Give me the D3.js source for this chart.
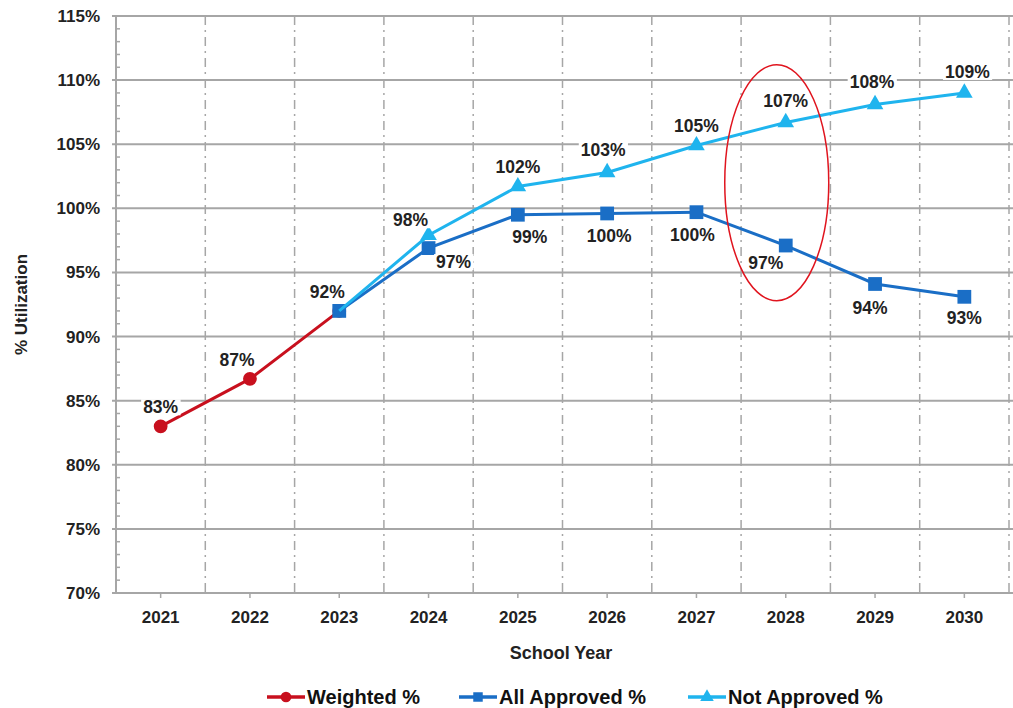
<!DOCTYPE html>
<html>
<head>
<meta charset="utf-8">
<script src="https://cdn.jsdelivr.net/npm/d3@7"></script>
<style>
  body { margin: 0; background: #fff; }
  svg { display: block; font-family: "Liberation Sans", Arial, sans-serif; font-weight: bold; }
</style>
</head>
<body>
<div id="chart"></div>
<script>
const years = ["2021", "2022", "2023", "2024", "2025", "2026", "2027", "2028", "2029", "2030"];
const weighted = [83.0, 86.7, 92.0, null, null, null, null, null, null, null];
const allApproved = [null, null, 92.0, 96.9, 99.5, 99.6, 99.7, 97.1, 94.1, 93.1];
const notApproved = [null, null, 92.0, 97.9, 101.7, 102.8, 104.9, 106.7, 108.1, 109.0];
const weightedLabels = ["83%", "87%", "92%"];
const allApprovedLabels = ["", "", "", "97%", "99%", "100%", "100%", "97%", "94%", "93%"];
const notApprovedLabels = ["", "", "", "98%", "102%", "103%", "105%", "107%", "108%", "109%"];
const yTicks = [70, 75, 80, 85, 90, 95, 100, 105, 110, 115];

const W = 1013, H = 708;
const margin = { top: 16, right: 4, bottom: 115, left: 116 };

const svg = d3.select("#chart").append("svg")
    .attr("width", W)
    .attr("height", H);

const x = d3.scaleBand()
    .domain(years)
    .range([margin.left, W - margin.right]);

const y = d3.scaleLinear()
    .domain([70, 115])
    .range([H - margin.bottom, margin.top]);

const gridColor = "#a6a6a6";
const font = "Liberation Sans, Arial, sans-serif";

// vertical dash-dot gridlines at band boundaries
years.forEach((yr, i) => {
    const xx = x(yr) + x.step();
    svg.append("line")
        .attr("x1", xx).attr("x2", xx)
        .attr("y1", y(115)).attr("y2", y(70))
        .attr("stroke", gridColor)
        .attr("stroke-width", 1.5)
        .attr("stroke-dasharray", "9,5,2,5");
});

// horizontal gridlines
yTicks.forEach(t => {
    svg.append("line")
        .attr("x1", margin.left - 4).attr("x2", W)
        .attr("y1", y(t)).attr("y2", y(t))
        .attr("stroke", gridColor)
        .attr("stroke-width", 2);
});

// y axis
const yAxis = svg.append("g")
    .attr("transform", `translate(${margin.left},0)`)
    .call(d3.axisLeft(y).tickValues(yTicks).tickSize(0).tickPadding(16).tickFormat(d => d + "%"));
yAxis.select(".domain").remove();
yAxis.selectAll("text")
    .attr("font-size", 17)
    .attr("font-family", font)
    .attr("font-weight", "bold")
    .attr("fill", "#222");
svg.append("line")
    .attr("x1", margin.left).attr("x2", margin.left)
    .attr("y1", y(115)).attr("y2", y(70))
    .attr("stroke", gridColor).attr("stroke-width", 2);
// minor ticks
d3.range(70, 115, 1).filter(v => v % 5 !== 0).forEach(v => {
    svg.append("line")
        .attr("x1", margin.left).attr("x2", margin.left + 4)
        .attr("y1", y(v)).attr("y2", y(v))
        .attr("stroke", gridColor).attr("stroke-width", 1.5);
});

// x axis
const xAxis = svg.append("g")
    .attr("transform", `translate(0,${y(70)})`)
    .call(d3.axisBottom(x).tickSize(5).tickPadding(13));
xAxis.select(".domain").remove();
xAxis.selectAll("line").attr("stroke", gridColor).attr("stroke-width", 1.5);
xAxis.selectAll("text")
    .attr("font-size", 17)
    .attr("font-family", font)
    .attr("font-weight", "bold")
    .attr("fill", "#222");

// titles
svg.append("text")
    .attr("x", 561)
    .attr("y", 659)
    .attr("text-anchor", "middle")
    .attr("font-size", 18)
    .attr("fill", "#222")
    .text("School Year");

svg.append("text")
    .attr("transform", `translate(27,${(y(70) + y(115)) / 2}) rotate(-90)`)
    .attr("text-anchor", "middle")
    .attr("font-size", 17)
    .attr("fill", "#222")
    .text("% Utilization");

const red = "#c8101e", blue = "#1a6ec6", light = "#1fb4ee";

const line = d3.line()
    .defined(d => d.v !== null)
    .x(d => x(d.year) + x.bandwidth() / 2)
    .y(d => y(d.v));

function toPoints(vals) {
    return vals.map((v, i) => ({ year: years[i], v: v, i: i }));
}

const series = [
    { vals: weighted, color: red, shape: d3.symbolCircle, size: 150, skip: [] },
    { vals: allApproved, color: blue, shape: d3.symbolSquare, size: 190, skip: [] },
    { vals: notApproved, color: light, shape: d3.symbolTriangle, size: 120, skip: [2] }
];

series.forEach(s => {
    const pts = toPoints(s.vals);
    svg.append("path")
        .datum(pts)
        .attr("fill", "none")
        .attr("stroke", s.color)
        .attr("stroke-width", 3)
        .attr("d", line);
    svg.selectAll(null)
        .data(pts.filter(d => d.v !== null && !s.skip.includes(d.i)))
        .enter().append("path")
        .attr("transform", d => `translate(${x(d.year) + x.bandwidth() / 2},${y(d.v)})`)
        .attr("d", d3.symbol().type(s.shape).size(s.size)())
        .attr("fill", s.color);
});

// data labels
function addLabel(cx, cy, txt) {
    if (!txt) return;
    const g = svg.append("g");
    const t = g.append("text")
        .attr("x", cx).attr("y", cy)
        .attr("text-anchor", "middle")
        .attr("font-size", 17.5)
        .attr("fill", "#222")
        .text(txt);
    const bb = t.node().getBBox();
    g.insert("rect", "text")
        .attr("x", bb.x - 2).attr("y", bb.y + 2)
        .attr("width", bb.width + 4).attr("height", bb.height - 4)
        .attr("fill", "#fff");
}

const wDx = [0, -13, -12], wDy = [-13, -13, -13];
weightedLabels.forEach((lab, i) => {
    const cx = x(years[i]) + x.bandwidth() / 2;
    addLabel(cx + wDx[i], y(weighted[i]) + wDy[i], lab);
});
const aDx = [0, 0, 0, 25, 12, 2, -4, -20, -5, 0];
const aDy = [0, 0, 0, 20, 28, 29, 29, 23, 30, 27];
allApprovedLabels.forEach((lab, i) => {
    if (!lab) return;
    const cx = x(years[i]) + x.bandwidth() / 2;
    addLabel(cx + aDx[i], y(allApproved[i]) + aDy[i], lab);
});
const nDx = [0, 0, 0, -18, 0, -4, 0, 0, -3, 3];
const nDy = [0, 0, 0, -9, -14, -16, -14, -15, -16, -15];
notApprovedLabels.forEach((lab, i) => {
    if (!lab) return;
    const cx = x(years[i]) + x.bandwidth() / 2;
    addLabel(cx + nDx[i], y(notApproved[i]) + nDy[i], lab);
});

// red highlight ellipse around 2028
svg.append("ellipse")
    .attr("cx", x("2028") + x.bandwidth() / 2 - 9)
    .attr("cy", y(102))
    .attr("rx", 52)
    .attr("ry", 118)
    .attr("fill", "none")
    .attr("stroke", "#e0141e")
    .attr("stroke-width", 1.5);

// legend
const legendItems = [
    { name: "Weighted %", color: red, shape: d3.symbolCircle, size: 90, x: 267 },
    { name: "All Approved %", color: blue, shape: d3.symbolSquare, size: 90, x: 459 },
    { name: "Not Approved %", color: light, shape: d3.symbolTriangle, size: 80, x: 688 }
];
legendItems.forEach(it => {
    const g = svg.append("g").attr("transform", `translate(${it.x},697)`);
    g.append("line").attr("x1", 0).attr("x2", 38).attr("y1", 0).attr("y2", 0)
        .attr("stroke", it.color).attr("stroke-width", 3.5);
    g.append("path").attr("transform", "translate(19,0)")
        .attr("d", d3.symbol().type(it.shape).size(it.size)())
        .attr("fill", it.color);
    g.append("text").attr("x", 40).attr("y", 7)
        .attr("font-size", 20)
        .attr("fill", "#111")
        .text(it.name);
});
</script>
</body>
</html>
